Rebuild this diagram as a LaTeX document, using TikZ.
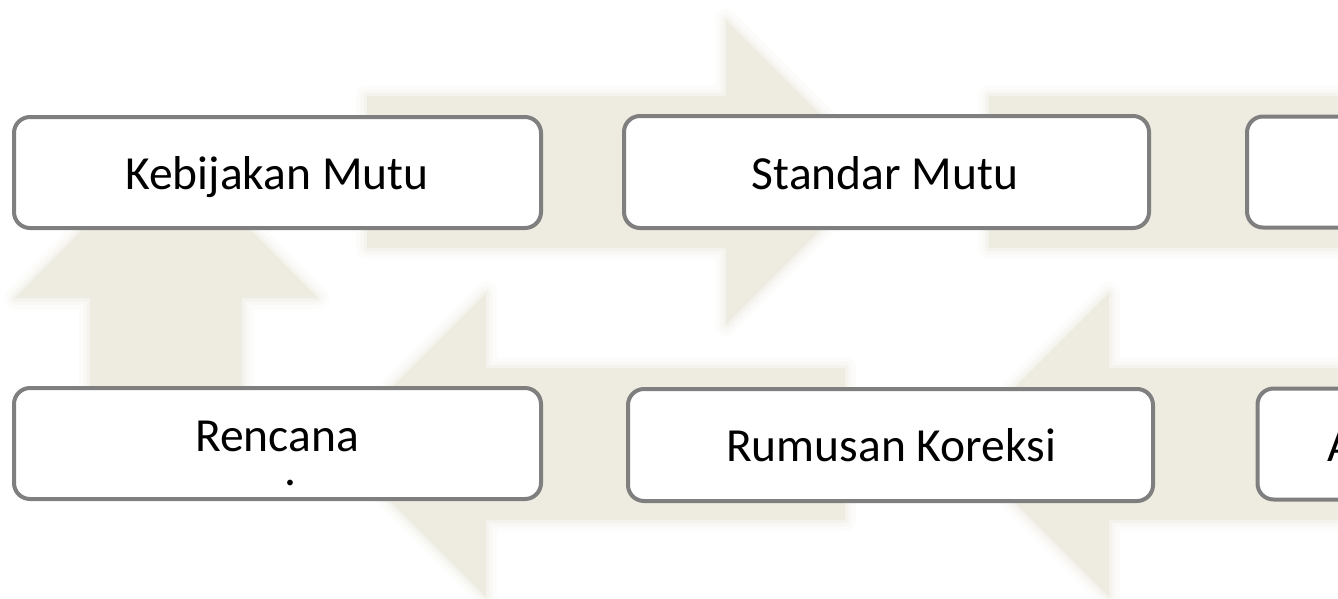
\documentclass[tikz,border=0pt]{standalone}
\usepackage{fontspec}
\setmainfont{Carlito}
\definecolor{tan}{HTML}{EEECE1}
\definecolor{boxline}{HTML}{7F7F7F}
\begin{document}
\begin{tikzpicture}[x=1pt,y=-1pt,
  bgarrow/.style={fill=tan,draw=none,
    preaction={draw=tan,line width=22pt,opacity=0.12,line join=round},
    preaction={draw=tan,line width=13pt,opacity=0.2,line join=round},
    preaction={draw=tan,line width=6pt,opacity=0.35,line join=round}},
  stagebox/.style={draw=boxline,line width=4pt,fill=white,rounded corners=16pt,
    rectangle,inner sep=0pt},
  wide/.style={stagebox,minimum width=527pt,minimum height=111pt},
  lbl/.style={anchor=base,inner sep=0pt,font=\fontsize{47.5}{57}\selectfont}]
\useasboundingbox (0,0) rectangle (1338,598);
\clip (0,0) rectangle (1338,598);
\fill[white] (0,0) rectangle (1338,598);
% background arrows
\path[bgarrow] (90,480) -- (90,298) -- (15,298) -- (166,145) -- (318,298) -- (242,298) -- (242,480) -- cycle;
\path[bgarrow] (367,96) -- (726,96) -- (726,20) -- (878,172) -- (726,325) -- (726,248) -- (367,248) -- cycle;
\path[bgarrow] (989,96) -- (1370,96) -- (1370,248) -- (989,248) -- cycle;
\path[bgarrow] (845,368) -- (486,368) -- (486,293) -- (334,445) -- (486,597) -- (486,520) -- (845,520) -- cycle;
\path[bgarrow] (1370,368) -- (1109,368) -- (1109,293) -- (957,445) -- (1109,597) -- (1109,520) -- (1370,520) -- cycle;
% boxes
\node[wide] (kebijakan) at (277.5,172.5) {};
\node[wide,minimum width=525pt,minimum height=112pt] (standar) at (886.5,172) {};
\node[wide] (third) at (1510.5,172) {};
\node[wide] (rencana) at (277.5,443.5) {};
\node[wide,minimum width=525pt,minimum height=112pt] (rumusan) at (890.5,445) {};
\node[wide] (sixth) at (1521,444) {};
% texts
\node[lbl] (tkebijakan) at (277,189) {Kebijakan Mutu};
\node[lbl] (tstandar) at (885,189) {Standar Mutu};
\node[lbl] (trencana) at (277,451) {Rencana};
\node[lbl] (tdot) at (290,485) {.};
\node[lbl] (trumusan) at (891,461) {Rumusan Koreksi};
\node[lbl,anchor=base west] (tsixth) at (1327,461) {A};
\end{tikzpicture}
\end{document}
